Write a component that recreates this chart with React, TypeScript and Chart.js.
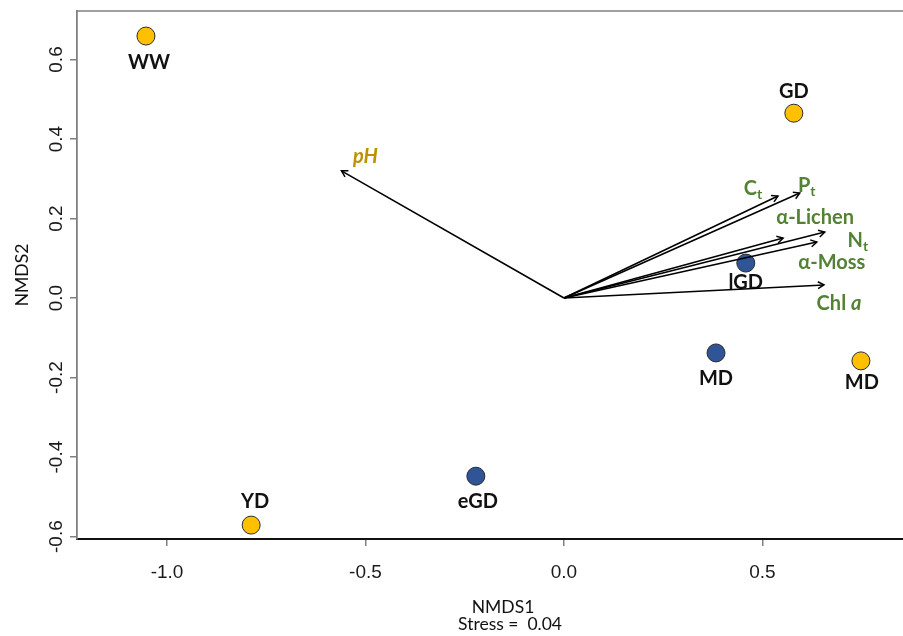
import React, { useEffect, useRef } from "react";
import { Chart, registerables } from "chart.js";

Chart.register(...registerables);

// ---- data ----
const yellowSites = ["WW", "GD", "MD", "YD"];
const yellowX = [-1.053, 0.579, 0.748, -0.788];
const yellowY = [0.659, 0.465, -0.158, -0.571];

const blueSites = ["lGD", "MD", "eGD"];
const blueX = [0.458, 0.383, -0.222];
const blueY = [0.088, -0.138, -0.448];

const vectorNames = ["Ct", "Pt", "α-Lichen", "Nt", "α-Moss", "Chl a", "pH"];
const vectorX = [0.539, 0.594, 0.552, 0.657, 0.637, 0.655, -0.5605];
const vectorY = [0.2565, 0.264, 0.151, 0.166, 0.141, 0.033, 0.32];

const xTicks = [-1.0, -0.5, 0.0, 0.5];
const yTicks = [-0.6, -0.4, -0.2, 0.0, 0.2, 0.4, 0.6];

const xTitle = "NMDS1";
const yTitle = "NMDS2";
const stressText = "Stress =  0.04";

// ---- styles ----
const YELLOW = "#FFC000";
const BLUE = "#2F5597";
const GREEN = "#548235";
const GOLD = "#BF9000";
const LABEL_FONT = "Lato";
const TICK_FONT = "'Liberation Sans', Arial, sans-serif";

// pixel offsets of site labels relative to point (label centre)
const yellowLabelOffsets = [
  [3, 26],
  [0, -22],
  [1, 22],
  [4, -24],
];
const blueLabelOffsets = [
  [0, 19],
  [0, 26],
  [2, 25],
];

// rich text for vector labels, with pixel offsets relative to arrow tip
type Seg = { t: string; sub?: boolean; italic?: boolean };
const vectorLabelSegs: Seg[][] = [
  [{ t: "C" }, { t: "t", sub: true }],
  [{ t: "P" }, { t: "t", sub: true }],
  [{ t: "α-Lichen" }],
  [{ t: "N" }, { t: "t", sub: true }],
  [{ t: "α-Moss" }],
  [{ t: "Chl " }, { t: "a", italic: true }],
  [{ t: "pH", italic: true }],
];
const vectorLabelOffsets = [
  [-25, -8],
  [7, -8],
  [32, -20],
  [33, 8],
  [15, 21],
  [15, 19],
  [24, -14],
];
const vectorLabelColors = [GREEN, GREEN, GREEN, GREEN, GREEN, GREEN, GOLD];

function drawRich(ctx: CanvasRenderingContext2D, segs: Seg[], cx: number, cy: number, color: string) {
  const mainSize = 20;
  const subSize = 14;
  const fontOf = (s: Seg) =>
    `${s.italic ? "italic " : ""}bold ${s.sub ? subSize : mainSize}px ${LABEL_FONT}`;
  let total = 0;
  const widths = segs.map((s) => {
    ctx.font = fontOf(s);
    const w = ctx.measureText(s.t).width;
    total += w;
    return w;
  });
  let x = cx - total / 2;
  ctx.fillStyle = color;
  ctx.textAlign = "left";
  ctx.textBaseline = "middle";
  segs.forEach((s, i) => {
    ctx.font = fontOf(s);
    ctx.fillText(s.t, x, s.sub ? cy + 6 : cy);
    x += widths[i];
  });
}

const customPlugin = {
  id: "nmdsDecor",
  beforeDatasetsDraw(chart: any) {
    const { ctx, chartArea, scales } = chart;
    const xs = scales.x;
    const ys = scales.y;
    ctx.save();
    // top frame line
    ctx.strokeStyle = "#808080";
    ctx.lineWidth = 1.5;
    ctx.beginPath();
    ctx.moveTo(chartArea.left, chartArea.top);
    ctx.lineTo(chartArea.right, chartArea.top);
    ctx.stroke();
    // site labels
    ctx.fillStyle = "#111";
    ctx.font = `bold 20px ${LABEL_FONT}`;
    ctx.textAlign = "center";
    ctx.textBaseline = "middle";
    yellowSites.forEach((name, i) => {
      const px = xs.getPixelForValue(yellowX[i]);
      const py = ys.getPixelForValue(yellowY[i]);
      ctx.fillText(name, px + yellowLabelOffsets[i][0], py + yellowLabelOffsets[i][1]);
    });
    blueSites.forEach((name, i) => {
      const px = xs.getPixelForValue(blueX[i]);
      const py = ys.getPixelForValue(blueY[i]);
      ctx.fillText(name, px + blueLabelOffsets[i][0], py + blueLabelOffsets[i][1]);
    });
    ctx.restore();
  },
  afterDatasetsDraw(chart: any) {
    const { ctx, chartArea, scales } = chart;
    const xs = scales.x;
    const ys = scales.y;
    ctx.save();
    // arrowheads
    const ox = xs.getPixelForValue(0);
    const oy = ys.getPixelForValue(0);
    ctx.strokeStyle = "#000";
    ctx.lineWidth = 1.5;
    vectorX.forEach((vx, i) => {
      const tx = xs.getPixelForValue(vx);
      const ty = ys.getPixelForValue(vectorY[i]);
      const ang = Math.atan2(ty - oy, tx - ox);
      const len = 7;
      const spread = Math.PI / 6;
      ctx.beginPath();
      ctx.moveTo(tx - len * Math.cos(ang - spread), ty - len * Math.sin(ang - spread));
      ctx.lineTo(tx, ty);
      ctx.lineTo(tx - len * Math.cos(ang + spread), ty - len * Math.sin(ang + spread));
      ctx.stroke();
      drawRich(
        ctx,
        vectorLabelSegs[i],
        tx + vectorLabelOffsets[i][0],
        ty + vectorLabelOffsets[i][1],
        vectorLabelColors[i]
      );
    });
    // tick labels
    ctx.fillStyle = "#1a1a1a";
    ctx.font = `19px ${TICK_FONT}`;
    ctx.textAlign = "center";
    ctx.textBaseline = "middle";
    xTicks.forEach((v) => {
      ctx.fillText(v.toFixed(1), xs.getPixelForValue(v), chartArea.bottom + 34);
    });
    yTicks.forEach((v) => {
      const py = ys.getPixelForValue(v);
      ctx.save();
      ctx.translate(chartArea.left - 20, py);
      ctx.rotate(-Math.PI / 2);
      ctx.fillText(v.toFixed(1), 0, 0);
      ctx.restore();
    });
    // titles
    ctx.font = `17.5px ${LABEL_FONT}`;
    ctx.fillStyle = "#111";
    ctx.fillText(xTitle, 503, 607);
    ctx.fillText(stressText, 510, 624);
    ctx.save();
    ctx.translate(22, (chartArea.top + chartArea.bottom) / 2);
    ctx.rotate(-Math.PI / 2);
    ctx.fillText(yTitle, 0, 0);
    ctx.restore();
    ctx.restore();
  },
};

export default function App() {
  const ref = useRef<HTMLCanvasElement | null>(null);
  useEffect(() => {
    document.body.style.margin = "0";
    document.body.style.overflow = "hidden";
    const canvas = ref.current;
    if (!canvas) return;
    const arrowSets = vectorX.map((vx, i) => ({
      type: "line" as const,
      label: vectorNames[i],
      data: [
        { x: 0, y: 0 },
        { x: vx, y: vectorY[i] },
      ],
      showLine: true,
      borderColor: "#000",
      borderWidth: 1.6,
      pointRadius: 0,
      fill: false,
    }));
    const chart = new Chart(canvas, {
      type: "scatter",
      data: {
        datasets: [
          ...arrowSets,
          {
            type: "scatter" as const,
            label: "blue",
            data: blueX.map((x, i) => ({ x, y: blueY[i] })),
            backgroundColor: BLUE,
            borderColor: "#2b2b2b",
            borderWidth: 1,
            pointRadius: 9,
          },
          {
            type: "scatter" as const,
            label: "yellow",
            data: yellowX.map((x, i) => ({ x, y: yellowY[i] })),
            backgroundColor: YELLOW,
            borderColor: "#2b2b2b",
            borderWidth: 1,
            pointRadius: 9,
          },
        ] as any,
      },
      options: {
        animation: false,
        responsive: false,
        events: [],
        layout: { padding: { left: 70, top: 11, right: 0, bottom: 90 } },
        plugins: { legend: { display: false }, tooltip: { enabled: false } },
        scales: {
          x: {
            type: "linear",
            min: -1.2267,
            max: 0.854,
            afterBuildTicks: (s: any) => {
              s.ticks = xTicks.map((v) => ({ value: v }));
            },
            ticks: { display: false },
            grid: { drawOnChartArea: false, drawTicks: true, tickLength: 7, color: "#808080", lineWidth: 1.5 },
            border: { display: true, color: "#111", width: 2 },
          },
          y: {
            type: "linear",
            min: -0.606,
            max: 0.722,
            afterBuildTicks: (s: any) => {
              s.ticks = yTicks.map((v) => ({ value: v }));
            },
            ticks: { display: false },
            grid: { drawOnChartArea: false, drawTicks: true, tickLength: 7, color: "#808080", lineWidth: 1.5 },
            border: { display: true, color: "#808080", width: 1.8 },
          },
        },
      },
      plugins: [customPlugin],
    });
    return () => chart.destroy();
  }, []);
  return (
    <div style={{ width: 903, height: 636, background: "#fff", overflow: "hidden" }}>
      <canvas ref={ref} width={913} height={636} style={{ display: "block" }} />
    </div>
  );
}
